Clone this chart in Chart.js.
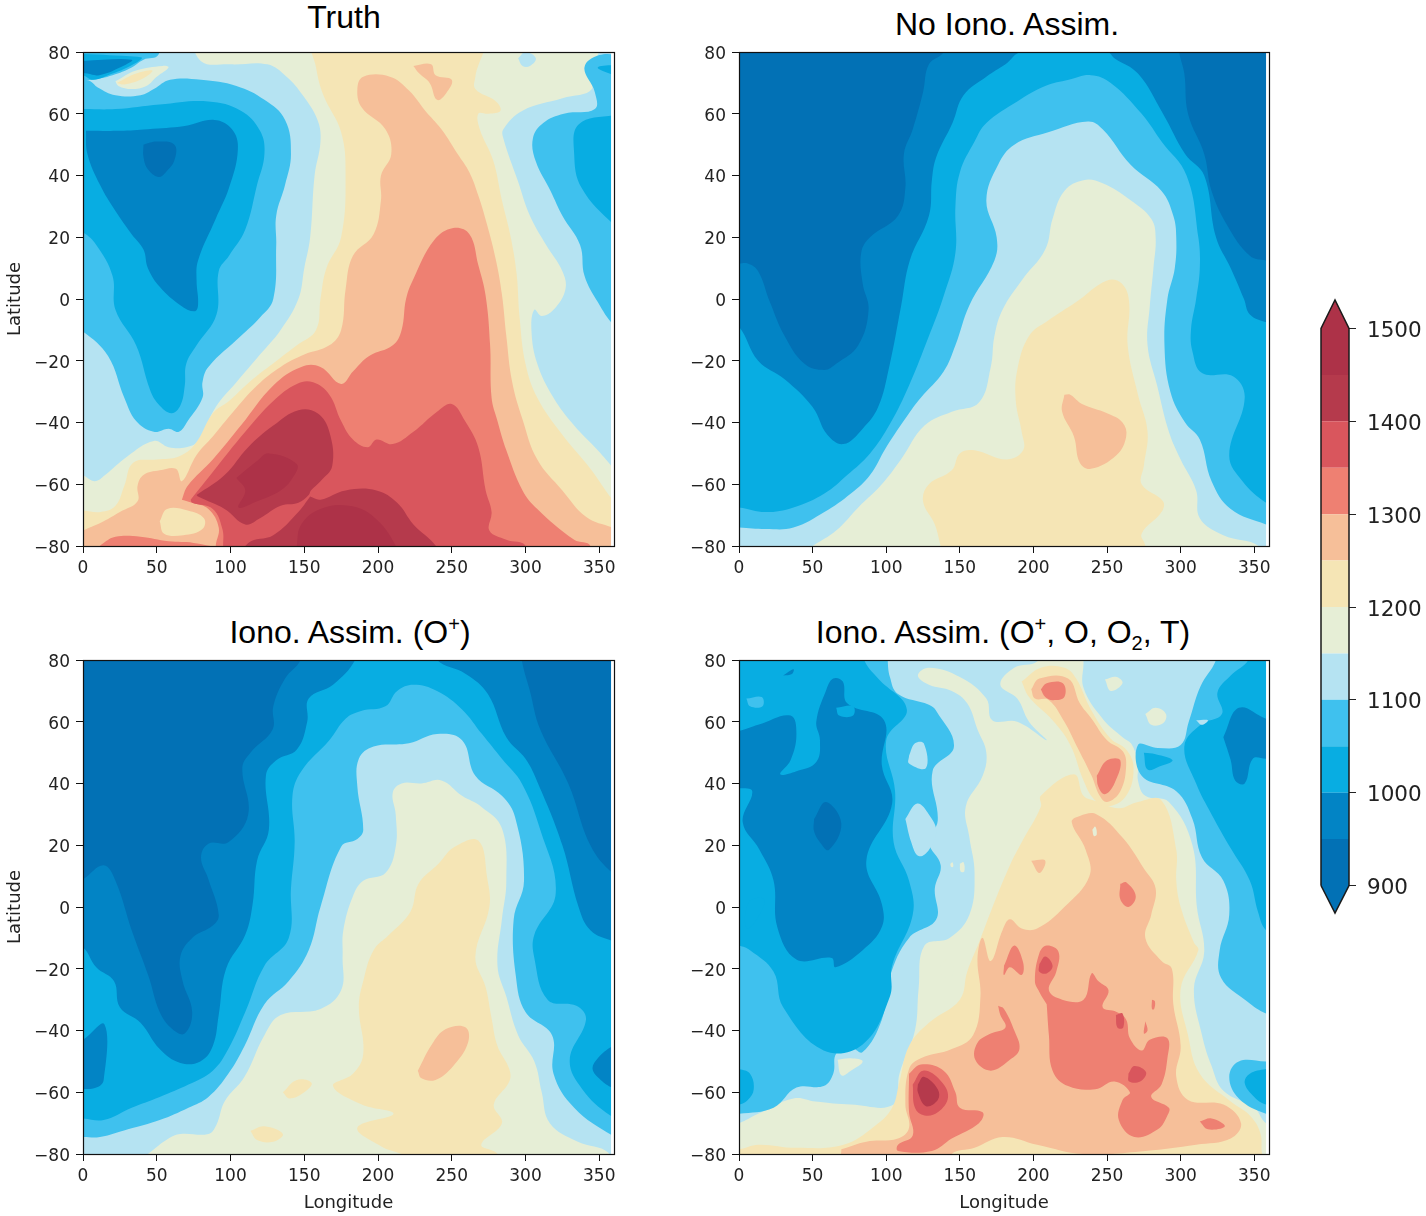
<!DOCTYPE html>
<html>
<head>
<meta charset="utf-8">
<title>Temperature maps</title>
<script src="https://cdn.jsdelivr.net/npm/chart.js@4"></script>
<style>
html, body { margin: 0; background: #fff; }
#page { position: relative; width: 1426px; height: 1216px; overflow: hidden; }
canvas { position: absolute; }
.ttl { position: absolute; transform: translate(-50%, -50%); font: 32px "Liberation Sans", sans-serif; color: #000; white-space: nowrap; line-height: 1; }
.ttl sup, .ttl sub { font-size: 20px; line-height: 0; }
</style>
</head>
<body>
<div id="page">
  <div class="ttl" style="left:344px;top:17px">Truth</div>
  <div class="ttl" style="left:1007px;top:24px">No Iono. Assim.</div>
  <div class="ttl" style="left:350px;top:632px">Iono. Assim. (O<sup>+</sup>)</div>
  <div class="ttl" style="left:1003px;top:632px">Iono. Assim. (O<sup>+</sup>, O, O<sub>2</sub>, T)</div>
  <canvas id="c1" width="630" height="560" style="left:0;top:40px"></canvas>
  <canvas id="c2" width="600" height="560" style="left:680px;top:40px"></canvas>
  <canvas id="c3" width="630" height="568" style="left:0;top:648px"></canvas>
  <canvas id="c4" width="600" height="568" style="left:680px;top:648px"></canvas>
  <canvas id="bar" width="126" height="640" style="left:1300px;top:290px"></canvas>
</div>
<script>
const lonTicks = [0, 50, 100, 150, 200, 250, 300, 350];
const latTicks = [-80, -60, -40, -20, 0, 20, 40, 60, 80];
const barTicks = [900, 1000, 1100, 1200, 1300, 1400, 1500];
const bandLevels = [900, 950, 1000, 1050, 1100, 1150, 1200, 1250, 1300, 1350, 1400, 1450];
const bandColors = ['#0271b5', '#0284c5', '#08ade2', '#3fc1ee', '#b5e3f2', '#e6eed6', '#f5e5b5', '#f6bf99', '#ee8072', '#d9565d', '#b53a4c', '#ad3248'];
const lastLon = 358;
const barTipLow = 870.4, barTipHigh = 1530.7;

// contour bands: [band level, [lon,lat, lon,lat, ...]], painted in order
const truthRegions = [
  [1100, [-5,-85, 365,-85, 365,85, -5,85]],
  [1150, [0,-57, 8,-59, 15,-57, 30,-51, 48,-46, 58,-48, 70,-48, 78,-46, 90,-35, 104,-27, 120,-18, 134,-10, 146,0, 150,10, 154,20, 157,40, 161,51, 159,58, 149,66, 138,72, 125,76, 100,76, 80,77, 77,85, 349,85, 349,79, 340,75, 345,68, 325,65, 298,61, 285,55, 285,52, 295,38, 303,27, 314,17.5, 325,9, 327,3, 319,-3.5, 311,-5.5, 306,-3.5, 304,-10, 308,-21, 319,-32, 333,-41, 349,-49, 360,-55, 366,-58, 366,-90, -6,-90, -6,-57]],
  [1200, [0,-68.5, 12,-69, 22,-67, 28,-60.5, 34,-53, 50,-52, 65,-51, 76,-47, 88,-37, 99,-33, 115,-26, 134,-19, 145,-15, 158,-10, 161,0, 165,10, 175,20, 178,40, 175,54, 163,66, 158,75, 156,85, 270,85, 266,72, 266,68, 280,64, 283,61, 275,60, 268,60, 269,55, 278,45, 284,32, 290,20, 294,8, 296,-6, 300,-21, 308,-32, 325,-44, 344,-55, 359,-65, 366,-68, 366,-90, -6,-90, -6,-68.5]],
  [1250, [0,-75, 14,-72, 25,-69, 37,-65.5, 37,-60.5, 41,-57, 52,-55.5, 63,-55, 67,-59, 77,-50.5, 88,-44.5, 101,-37, 118,-28, 134,-22, 150,-18, 167,-15, 175,-10, 178,3, 183,14, 197,21, 202,32, 202,40, 209,47, 205,55, 189,62, 186,68, 190,72, 208,72, 221,67.5, 232,61, 243,55, 254,47, 262,41, 268,33.5, 274,24, 280,12.5, 284,1.5, 287,-12, 291,-27, 298,-39, 308,-52, 325,-62, 341,-70.5, 359,-74, 366,-75, 366,-90, -6,-90, -6,-75]],
  [1200, [52,-72, 57,-68, 71,-68.5, 82,-71, 81,-74.5, 68,-76.5, 55,-76]],
  [1250, [224,75.5, 236,76, 239,72.5, 250,71, 246,66.5, 240,64.5, 235,70, 228,73]],
  [1300, [67,-65, 71,-60.5, 88,-52, 107,-41, 129,-28, 148,-22, 161,-22, 175,-27.5, 183,-23.5, 194,-18.5, 210,-15, 216,-10, 219,0, 224,6.5, 238,19, 251,23, 262,21, 268,11, 273,1, 276,-15, 277,-32, 281,-39.5, 287,-49, 298,-62, 308,-68, 333,-78, 344,-80, 344,-90, 90,-90, 90,-80, 92,-74, 85,-68, 74,-66]],
  [1300, [9,-81, 14,-79, 22,-77, 39,-77, 58,-78.5, 75,-79, 92,-81]],
  [1350, [73,-65, 88,-56, 110,-43, 129,-33, 145,-27.5, 156,-27, 167,-31, 175,-39.5, 183,-45.5, 193,-48, 199,-45.5, 210,-47, 224,-43, 240,-36.5, 250,-34, 259,-39.5, 268,-48, 273,-62, 277,-69, 275.5,-75, 287,-78, 300,-80, 300,-90, 95,-90, 95,-80, 94.5,-74.5, 88,-68, 74,-66]],
  [1400, [77,-63.5, 96,-57, 112,-48, 129,-41, 146,-36, 159,-37, 167,-43, 169,-54, 161,-59, 154.5,-62, 153,-63.5, 146,-66, 134,-67, 120,-71, 110,-73, 96,-68, 78,-64]],
  [1400, [154,-64, 161,-65, 178,-62, 199,-62, 213,-66, 224,-73, 240,-80.5, 240,-85, 108,-85, 112,-79, 129,-76.5, 146,-69]],
  [1450, [104,-58, 118,-52.5, 126,-50, 145,-53.5, 142,-58, 134,-62, 118,-65.5, 105.5,-67.5, 110,-62]],
  [1450, [145,-85, 145,-80, 148,-73, 161,-68, 180,-67, 197,-70.5, 212,-80, 212,-85]],
  [1150, [22,70.5, 36,74, 54,75.5, 58,75, 50,72, 43,69, 33,68, 24,69]],
  [1200, [23,70, 36,73, 47,74, 41,71.5, 28,69.5]],
  [1100, [295,78, 300,80, 307,78, 303,75.5, 298,75.5]],
  [1050, [-5,-10.5, 0,-10.5, 17,-18.5, 28,-32, 36,-39.5, 48,-43, 58,-42, 65,-43, 71,-39.5, 81,-32, 81,-27, 85,-22, 107,-12, 120,-6, 129,0, 131,17.5, 131,27, 137,37, 141,47, 137,58, 123,64.5, 104,69, 80,71, 59,71, 48,68, 39,66, 22,66, 10,68.5, 5,70.5, 0,71, -5,71]],
  [1000, [-5,61.5, 0,61.5, 22,61.5, 52,63, 85,64, 107,61, 120,54.5, 123,47, 118,37, 110,22.5, 99,14, 92,9, 90.5,-5, 77,-15, 70,-21, 69,-28, 66,-34.5, 60,-37, 51,-34, 45.5,-29.5, 36,-15, 22,-3.5, 20,7.5, 9,17.5, 0,21.5, -5,21.5]],
  [950, [2,54.5, 25,54.5, 44,55, 69,56, 89,58, 101,55, 105,48.5, 99,36, 90,26, 78,12.5, 77,6, 78,-2, 75.5,-4, 66,-2, 52,4, 44,10, 41,16, 33,21, 22,28.5, 11.5,37, 3,47]],
  [900, [41,50, 50,51, 62,50, 62,45, 56,41, 51,39.5, 44,42, 41,46]],
  [1050, [-5,85, 50,85, 51,79, 41,77.5, 33,75, 20,72.5, 6,71, -5,71]],
  [1000, [-5,79.5, 37,78.5, 40,78, 32,75.5, 20,73, 7,71, 0,72.5, -5,72.5]],
  [950, [-5,77, 33,77.5, 25,75, 11,72.5, 3,73, -5,74]],
  [1050, [366,79, 350,79, 340,75, 347,67, 347,61.5, 326,60, 312,57, 305,52, 307,44.5, 317,35, 325,27, 337,17.5, 340,7.5, 349,-1, 360,-8.5, 366,-9]],
  [1000, [366,59, 360,59.5, 336,56.5, 333,47, 338,36, 360,24, 366,23]],
  [1000, [366,76, 349,75, 360,72.5, 366,72]]
];

const noIonoRegions = [
  [900, [-5,-85, 365,-85, 365,85, -5,85]],
  [950, [139,85, 139,80, 129,76, 125,67, 118,55, 112,47, 113,36, 108,27, 89,20, 83,15, 84,5, 88,-3.5, 81,-15, 66,-21, 58,-23, 44.5,-21, 31,-12, 21,-1, 13,9, 6,11.5, 0,11.5, -6,11.5, -6,-90, 366,-90, 366,12, 358,12.5, 347,14, 331.5,24, 321,35, 316,47, 305,60, 302.5,73, 299,80, 299,85]],
  [1000, [-6,-9, 0,-9, 13,-20, 31,-26, 50,-35, 60,-44, 71,-47, 84,-42, 94.5,-35, 102,-22, 110,-2.5, 116,12.5, 129,27, 131,38.5, 134,46, 145,57, 152.5,66, 168,72, 181,76, 192,80, 250,80, 255,78, 271,73, 288,60, 303,47, 316,40, 324,20, 334,10, 343,0, 347,-5, 358,-7.5, 366,-8, 366,-90, -6,-90]],
  [1050, [-6,-67.5, 0,-67.5, 18,-69, 37,-67.5, 58,-63, 73.5,-57, 89,-50, 102.5,-40.5, 115.5,-28, 129,-12, 139,1, 147,15, 147,30, 150,41, 160,51, 168,57, 189,64, 208,69, 224,71, 239,72.5, 252.5,70, 273.5,60, 287,51, 304,40, 312,20, 313,10, 310.5,0, 307,-10, 308,-17, 314.5,-24, 335.5,-25, 343.5,-32, 333,-50.5, 342,-59, 358,-66, 366,-67, 366,-90, -6,-90]],
  [1100, [-6,-74, 0,-74, 18,-74.5, 37,-74, 58,-69, 76,-63, 89,-57, 100,-48, 115.5,-37, 123.5,-32, 139,-23.5, 147,-15, 156.5,-2, 173.5,12.5, 175,20, 168,32, 176,43.5, 187,50, 210,54, 237,57.5, 247,55, 266,43.5, 287,35, 295,27, 297,20, 296,10, 291,0, 289,-15, 293,-30, 303,-40, 313,-45.5, 321,-59, 334,-68, 358,-73, 366,-74, 366,-90, -6,-90]],
  [1150, [50,-80, 66,-75, 81,-67.5, 97,-60, 110,-52, 126,-41, 144.5,-36.5, 163,-33.5, 171,-22, 173.5,-12, 179,-3.5, 192,6, 208,16, 213,26, 221,35, 234,38.5, 247,37.5, 266,32, 280,26, 283,20, 281.5,10, 279,-2.5, 277.5,-15, 284,-28, 292,-43, 300,-52, 310.5,-62, 313,-71, 329,-76.5, 353,-80, 353,-85, 50,-85]],
  [1200, [137,-80, 133,-73, 125,-65.5, 129,-60, 144.5,-55.5, 150,-50, 160,-49, 181.5,-52, 193,-49, 192,-43, 188,-33, 189,-23, 197,-12, 210,-7, 229,-1, 250,6, 260,5, 265,-1, 264,-15, 271,-31, 277.5,-43, 275,-54, 273.5,-60, 288,-65.5, 287,-69, 273.5,-76, 276,-80, 276,-85, 137,-85]],
  [1250, [221,-31, 225,-31, 233,-34, 250,-37, 260.5,-40, 263,-44.5, 256.5,-50.5, 239,-55, 231.5,-53, 227.5,-44.5, 219.5,-36.5]]
];

const ionoOplusRegions = [
  [900, [-5,-85, 365,-85, 365,85, -5,85]],
  [950, [147.5,85, 147.5,80, 137,74, 129,65, 128.5,57.5, 113.5,50, 108,45, 112,30, 98.5,21, 85,20.5, 80,16, 85,9, 92,-2.5, 88,-6, 74,-10, 66,-16, 67.5,-24, 74,-34, 69,-41, 60.5,-39.5, 52,-34, 44.5,-22.5, 33,-7.5, 22,8.5, 14,13.5, 0,9, -6,8, -6,-90, 366,-90, 366,10.5, 359,11, 344,20, 329,40, 310,57.5, 303,70, 297.5,80, 297.5,85]],
  [1000, [-6,-13, 0,-13, 9,-19.5, 21,-24, 25,-32.5, 39,-37.5, 52,-46, 66,-50.5, 79.5,-50, 88,-45, 92,-35, 97,-20, 110,-9, 115,1, 118,15, 126,25, 124,42.5, 131,47.5, 145,51, 152,60, 153,67.5, 169.5,72, 184.5,80, 184.5,85, 240,85, 240,80, 259.5,75.5, 274.5,69, 287,55, 300,48, 308.5,40, 325,20, 336,0, 344,-7.5, 359,-11, 366,-11.5, 366,-90, -6,-90]],
  [1050, [-6,-68.5, 0,-68.5, 14,-69, 33,-65, 52,-61.5, 71.5,-57.5, 88,-53, 98.5,-46, 110,-34, 123,-19, 139.5,-10, 141,6, 143.5,21, 142,36, 148,44, 167,54, 178,61, 188.5,63.5, 205,65, 213,70, 224,72, 240,70, 257,64, 270.5,56, 284,48, 297.5,40, 310,25, 320.5,4.5, 306,-9, 306,-16.5, 315,-30, 334.5,-32, 341,-36.5, 330,-49.5, 338.5,-59, 357.5,-67.5, 366,-68, 366,-90, -6,-90]],
  [950, [-6,-44, 0,-43, 14.5,-38, 14,-56, 9,-58.5, 0,-59, -6,-59]],
  [950, [366,-44, 359,-45, 349,-49, 345.5,-52.5, 351,-56, 359,-58.5, 366,-59]],
  [1100, [-6,-74.5, 0,-74.5, 11.5,-74.5, 30.5,-72, 52,-69, 71.5,-65, 85,-61.5, 98.5,-54, 109.5,-45, 123,-31.5, 139.5,-24, 153,-14, 161,0, 175,19.5, 186,22, 190,25, 186,39, 187,48, 197,52, 221,53, 240,56, 257,54, 266,42.5, 284,36, 293,29, 299,8.5, 292,-4, 293.5,-22.5, 300,-34, 318,-41.5, 319,-54, 333,-65, 359,-74, 366,-74.5, 366,-90, -6,-90]],
  [1150, [44,-80, 58,-75, 66,-73.5, 85,-73.5, 90.5,-70.5, 96,-63, 109.5,-55, 123,-41.5, 134,-35, 161,-33, 175,-27, 176,-16, 176.5,-7.5, 183,3.5, 190,8.5, 205,11, 212,19.5, 212,30, 210,37, 216,40, 229.5,40, 243,41, 257,36, 270,32.5, 284,25.5, 287,8.5, 284,-4, 281,-19, 287,-29, 295,-41.5, 306,-50, 311,-60, 316.5,-70, 335.5,-76, 356,-79.5, 356,-85, 44,-85]],
  [1200, [216,-80, 202,-77.5, 186,-71.5, 210.5,-67, 189,-64, 169.5,-58, 183,-54, 190,-47.5, 187,-32.5, 190,-24, 197,-14, 207.5,-9, 222,-1.5, 227.5,7.5, 241,14, 252,19.5, 268,21.5, 274,9.5, 275.5,0, 266,-16, 273,-26, 277,-36, 281,-45, 289,-52.5, 289,-56.5, 278.5,-64, 284,-70, 270,-77, 281,-80, 281,-85, 216,-85]],
  [1200, [135.5,-60, 145,-56, 155,-57, 150,-60, 140,-62]],
  [1200, [113.5,-72.5, 123,-71, 135.5,-73.5, 129,-76, 118,-75.5]],
  [1250, [227,-53, 236.5,-44.5, 246,-39.5, 259.5,-39, 261,-44, 251,-51.5, 239,-56, 229.5,-55.5]]
];

const ionoAllRegions = [
  [1100, [-5,-85, 365,-85, 365,85, -5,85]],
  [1150, [-6,-70, 0,-70, 13,-67, 37,-62, 52,-63, 76,-64, 105,-64, 109,-54, 119.5,-40, 122,-26.5, 126,-12.5, 143,-10, 156.5,-2.5, 160,11, 156.5,22.5, 154,32.5, 165.5,42.5, 168,50, 162,57.5, 155,66, 144.5,70, 129,72, 121.5,75, 129,77.5, 150,74.5, 168,67.5, 172,60.5, 189,60, 209,54, 197,60, 189,67.5, 177.5,72, 187,77.5, 202.5,79.5, 205,85, 233,85, 234,79.5, 234,71, 247,61, 260.5,55, 267,52.5, 271,46, 271,41, 276,36, 292,34, 308,20, 311,0, 316,-14.5, 309,-26.5, 314.5,-41.5, 321,-51.5, 329,-59.5, 350,-65, 358,-70, 366,-70, 366,-90, -6,-90]],
  [1150, [276,62.5, 283,64.5, 290,62.5, 288,59.5, 280,59]],
  [1150, [248.6,73.7, 256.5,74.5, 260.5,72.5, 252.5,70]],
  [1200, [-6,-78.5, 0,-78.5, 13,-77, 39,-78, 71,-77, 92,-71, 104,-65, 109,-56.5, 115.5,-45, 129,-37.5, 150,-30, 155,-21, 163,-11.5, 171,-1.5, 184,13.5, 192,21, 205,32.5, 205,36, 227.5,43, 234,36, 241,34.5, 258,32, 271,34, 287,34.5, 297,18.5, 297,8.5, 300,0, 309,-11.5, 312,-14, 300,-26.5, 305,-41.5, 313,-54, 334,-63, 347,-67.5, 354,-73, 355,-79, 356,-85, -6,-85]],
  [1200, [192,73, 205,77.5, 221,77.5, 229,74, 239,64, 252.5,54.5, 263,51, 268,45, 263,36, 250,32.5, 241,35, 234,41, 225,52.5, 213,60.5, 197,68]],
  [1150, [137,-18, 143,-17, 146,-21, 142,-23, 137,-21.5]],
  [1250, [198.5,70.5, 204,74, 223.5,74, 231.5,66, 239.5,61, 250,54, 260.5,50.5, 263,46, 259,37.5, 250,34, 245,36, 239.5,42.5, 229,52.5, 221,60, 210.5,67, 201,67.5]],
  [1250, [69.5,-78.5, 86.5,-76, 108,-75, 115.5,-71.5, 113,-64, 115.5,-52.5, 123.5,-49, 144.5,-46, 159,-41.5, 164,-29, 162,-16.5, 165.5,-10, 171,-17.5, 179,-7.5, 184,-4, 192,-7, 202.5,-7, 221,0, 238,10, 235.5,18.5, 226,27.5, 231.5,29.5, 243,30, 260.5,22.5, 275,12.5, 283,6, 280,-2.5, 276,-10, 287,-17.5, 294,-20, 295,-31.5, 300,-45, 297,-55, 305,-62.5, 329,-64, 341,-70, 334,-75, 310.5,-77, 276,-79, 234,-80, 202.5,-77, 179,-74.5, 160,-78, 144.5,-80, 144,-85, 70,-85]],
  [1250, [198.5,15, 208,15, 204,11]],
  [1300, [115.5,-54, 123.5,-51, 139,-53, 147,-60, 150,-65, 165.5,-66.5, 163,-70, 144.5,-75, 131,-79, 108,-79, 108,-77, 118,-74, 115.5,-66.5]],
  [1300, [205,70.5, 209,72.5, 220,72.5, 221,68, 213,67, 208,68]],
  [1300, [243,42.5, 250,47.5, 259,47.5, 255,40, 248.5,36.5, 244,39]],
  [1300, [176,-32, 180,-33, 187,-40, 190.5,-46, 184,-49.5, 171,-53, 160.5,-49.5, 162,-44, 171,-41, 181,-39, 177.5,-35]],
  [1300, [180,-19, 187,-12.5, 193,-18, 192,-22, 184,-19.5, 180,-22]],
  [1300, [209,-31.5, 204,-27.5, 201,-24, 204,-15, 209,-12.5, 217,-14.5, 215.5,-21, 210.5,-27, 219.5,-30, 234,-30, 239.5,-21.5, 244,-24, 251,-27, 247,-32.5, 256.5,-34, 263,-36.5, 265.5,-42.5, 273.5,-46.5, 279,-43, 291,-42.5, 291,-49, 287,-57.5, 280,-61.5, 292,-65, 291,-67.5, 284.5,-72, 268.5,-74.5, 258,-69, 260.5,-62.5, 265.5,-60, 255,-56.5, 242,-59, 223.5,-58, 213,-53, 210.5,-41.5]],
  [1300, [259,7.5, 263,8, 269.5,3.5, 264.5,0, 259,2.5]],
  [1300, [313,-69.5, 321,-68.5, 330,-71, 318.5,-72]],
  [1300, [276,-37, 277.5,-40, 275,-41]],
  [1300, [280.5,-30, 282.5,-30.5, 282,-33, 280.5,-33]],
  [1150, [143.5,14, 145,14.5, 145.5,13, 144,13]],
  [1150, [150,14, 152.5,14.5, 153,11.5, 150.5,11.5]],
  [1150, [240,25, 242,26, 243,23.5, 241,23]],
  [1350, [118,-57.5, 125,-53, 136.5,-56, 142,-61.5, 135,-66.5, 126,-67.5, 119.5,-65]],
  [1350, [264.5,-54, 268.5,-51.5, 276.5,-53.5, 272.5,-56.5, 265,-56.5]],
  [1350, [204,-18.5, 208,-16, 213,-19, 209,-21.5, 204,-21]],
  [1350, [256,-35, 260.5,-34.5, 261,-39, 257,-39]],
  [1400, [121.5,-57.5, 125.5,-55, 135,-59, 135,-62.5, 127,-64.5, 121.5,-60]],
  [1050, [101,85, 101,80, 102.5,74.5, 108,69, 129,65.5, 134,63.5, 146,52, 131.5,44, 135,28, 129,21, 137,13.5, 133,6, 134,-4, 115.5,-10, 102.5,-22.5, 97,-36.5, 84,-47, 76,-45.5, 66,-47.5, 64,-54, 57.5,-58, 39,-58.5, 23.5,-65, 0,-67, -6,-67, -6,85]],
  [1150, [67,-49.5, 76,-49, 84,-50, 76,-53, 69.5,-54.5]],
  [1100, [115.5,49, 119.5,53, 125.5,53, 127,45, 115.5,46.5]],
  [1100, [113,28.5, 121,33.5, 129,30, 134,24.5, 129,18.5, 122,16.5, 117,21]],
  [1000, [85,85, 85,80, 94.5,74, 114,64, 100,54, 106,37.5, 105,21, 115.5,8.5, 118,-2.5, 104,-19, 102.5,-29, 84,-44.5, 57.5,-46.5, 30,-32.5, 23.5,-21, 7.5,-14, 0,-12.5, -6,-12, -6,85]],
  [1000, [-6,-52, 0,-52.5, 7.5,-54, 10,-59, 6,-62.5, 0,-64, -6,-64]],
  [950, [-6,57, 0,57, 13,59, 35,62, 39,56, 35,47.5, 28,43, 39,44, 52.5,47, 55,54, 52.5,60, 59,70, 64,74, 70.5,73, 73.5,66, 98.5,60.5, 97,46, 104,33.5, 86.5,15, 97,1, 97,-6.5, 84,-14, 65.5,-19.5, 63,-16.5, 39,-17, 26,-6.5, 23.5,8.5, 14,18.5, 2.5,27.5, 9,37.5, 0,38.5, -6,38.5]],
  [900, [51,28.5, 59,34, 69.5,27, 61,18.5, 55,21, 51,24.5]],
  [1000, [3.5,-4, 7.5,2, 17,2.5, 14,-2.5, 6,-7]],
  [1000, [66,64.5, 77.5,65, 77.5,62, 68,62]],
  [1050, [5,67.5, 15.5,68, 16,65, 7.5,65]],
  [950, [30,75, 37,77, 36,75.5]],
  [1050, [324,85, 324,80, 313.5,71.5, 305.5,60, 300,52.5, 284.5,51.5, 271,52.5, 273.5,42.5, 297,37.5, 308,28.5, 314.5,16, 329,8.5, 333,-2.5, 326.5,-14, 327.5,-23, 345,-30.5, 358,-34.5, 366,-35, 366,85]],
  [1050, [366,-50, 358,-50, 339.5,-50, 333,-55, 339.5,-62, 358,-67, 366,-67]],
  [1000, [366,-52, 358,-52.5, 347,-54, 343.5,-57, 350,-61.5, 358,-64, 366,-64]],
  [1000, [346,85, 346,80, 334,75, 325,69.5, 328,62.5, 313.5,59, 302.5,52, 310.5,40, 321,30, 334,19, 347,8.5, 352.5,-1.5, 358,-7.5, 366,-8, 366,85]],
  [1000, [275,50, 283,49.5, 294.5,47.5, 285.5,45.5, 277.5,44.5]],
  [1100, [310.5,60.5, 318.5,60.5, 314.5,59]],
  [950, [329,55, 339.5,64.5, 358,61, 366,60, 366,48, 358,48, 349,48, 343.5,40, 337,41, 334,47.5]]
];

function bandColor(level) {
  return bandColors[bandLevels.indexOf(level)];
}

function ringData(ring) {
  const pts = [];
  for (let i = 0; i < ring.length; i += 2) pts.push({ x: ring[i], y: ring[i + 1] });
  pts.push({ x: ring[0], y: ring[1] });
  return pts;
}

function regionDataset(region, tension) {
  return {
    data: ringData(region[1]),
    backgroundColor: bandColor(region[0]),
    borderWidth: 0,
    borderColor: 'transparent',
    pointRadius: 0,
    tension: tension,
    capBezierPoints: false,
    fill: 'shape'
  };
}

// axes box plus the thin empty strip past the last model longitude
const framePlugin = {
  id: 'frame',
  afterDatasetsDraw(chart) {
    const a = chart.chartArea, c = chart.ctx;
    const xEnd = chart.scales.x.getPixelForValue(lastLon);
    c.save();
    c.fillStyle = '#fff';
    c.fillRect(xEnd, a.top, a.right - xEnd, a.bottom - a.top);
    c.strokeStyle = '#111';
    c.lineWidth = 1.2;
    c.strokeRect(Math.round(a.left) + 0.5, Math.round(a.top) + 0.5, Math.round(a.width), Math.round(a.height));
    c.restore();
  }
};

// empty first line plus a tiny line height nudges the label down onto its tick
function latLabel(v) {
  return ['', String(v).replace('-', '\u2212')];
}

function mapPanel(id, regions, box, showLat, showLon) {
  const cv = document.getElementById(id);
  const tickFont = { family: 'DejaVu Sans', size: 17 };
  const titleFont = { family: 'DejaVu Sans', size: 18 };
  new Chart(cv.getContext('2d'), {
    type: 'line',
    data: { datasets: regions.slice().reverse().map(r => regionDataset(r, 0.4)) },
    plugins: [framePlugin],
    options: {
      responsive: false,
      animation: false,
      events: [],
      layout: { padding: { left: 0, top: box.top, right: cv.width - box.right, bottom: 0 } },
      plugins: { legend: { display: false }, tooltip: { enabled: false }, title: { display: false } },
      scales: {
        x: {
          type: 'linear', min: 0, max: 360,
          afterBuildTicks(s) { s.ticks = lonTicks.map(v => ({ value: v })); },
          afterFit(s) { s.height = cv.height - box.bottom; s.paddingLeft = 0; s.paddingRight = 0; },
          grid: { drawOnChartArea: false, tickLength: 7, tickColor: '#111' },
          border: { display: false },
          ticks: { font: tickFont, color: '#222', padding: 5, maxRotation: 0, autoSkip: false },
          title: { display: showLon, text: 'Longitude', font: titleFont, color: '#222', padding: { top: 0, bottom: 2 } }
        },
        y: {
          type: 'linear', min: -80, max: 80,
          afterBuildTicks(s) { s.ticks = latTicks.map(v => ({ value: v })); },
          afterFit(s) { s.width = box.left; s.paddingTop = 0; s.paddingBottom = 0; },
          grid: { drawOnChartArea: false, tickLength: 7, tickColor: '#111' },
          border: { display: false },
          ticks: { font: { family: 'DejaVu Sans', size: 17, lineHeight: '5px' }, color: '#222', padding: 6, autoSkip: false, callback: latLabel },
          title: { display: showLat, text: 'Latitude', font: titleFont, color: '#222', padding: { top: 5, bottom: 0 } }
        }
      }
    }
  });
}

mapPanel('c1', truthRegions, { left: 83, right: 614, top: 12, bottom: 506 }, true, false);
mapPanel('c2', noIonoRegions, { left: 59, right: 589, top: 12, bottom: 506 }, false, false);
mapPanel('c3', ionoOplusRegions, { left: 83, right: 614, top: 12, bottom: 506 }, true, true);
mapPanel('c4', ionoAllRegions, { left: 59, right: 589, top: 12, bottom: 506 }, false, true);

// colorbar: one slab per band, pointed ends for the extended bands
function barRing(i) {
  const lo = bandLevels[i], hi = lo + 50;
  if (i === 0) return [0, hi, 1, hi, 1, lo, 0.5, barTipLow, 0, lo];
  if (i === bandLevels.length - 1) return [0, lo, 1, lo, 1, hi, 0.5, barTipHigh, 0, hi];
  return [0, lo, 1, lo, 1, hi, 0, hi];
}

const barDatasets = bandLevels.map((lv, i) => regionDataset([lv, barRing(i)], 0));
const barEdge = [0, 900, 0.5, barTipLow, 1, 900, 1, 1500, 0.5, barTipHigh, 0, 1500];
barDatasets.unshift({
  data: ringData(barEdge),
  borderColor: '#1a1a1a',
  borderWidth: 1.5,
  pointRadius: 0,
  tension: 0,
  fill: false,
  clip: 4
});

const barCanvas = document.getElementById('bar');
new Chart(barCanvas.getContext('2d'), {
  type: 'line',
  data: { datasets: barDatasets },
  options: {
    responsive: false,
    animation: false,
    events: [],
    layout: { padding: { left: 21, top: 10, right: 0, bottom: barCanvas.height - 623 } },
    plugins: { legend: { display: false }, tooltip: { enabled: false } },
    scales: {
      x: { type: 'linear', min: 0, max: 1, display: false },
      y: {
        type: 'linear', position: 'right', min: barTipLow, max: barTipHigh,
        afterBuildTicks(s) { s.ticks = barTicks.map(v => ({ value: v })); },
        afterFit(s) { s.width = barCanvas.width - 49; s.paddingTop = 0; s.paddingBottom = 0; },
        grid: { drawOnChartArea: false, tickLength: 7, tickColor: '#222' },
        border: { display: false },
        ticks: { font: { family: 'DejaVu Sans', size: 21.5, lineHeight: '6px' }, color: '#222', padding: 11, autoSkip: false, callback: latLabel }
      }
    }
  }
});
</script>
</body>
</html>
